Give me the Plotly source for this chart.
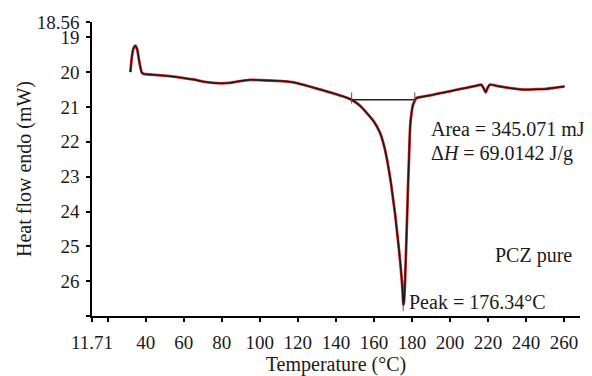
import plotly.graph_objects as go

temps = [31.9, 32.6, 33.5, 34.5, 35.5, 36.6, 37.8, 38.9, 45, 50, 55, 60, 65, 70, 75.6, 80, 83.5, 88, 94.9,
         100, 108.9, 115.9, 120, 124.7, 130, 135, 140, 144, 147.4, 150, 153, 156.2, 160, 163.2, 165.5,
         167.5, 169, 170.1, 171.2, 172.2, 173.2, 174.0, 174.7, 175.1, 175.4, 175.8, 176.3, 176.8, 177.2,
         177.6, 178.0, 178.5, 178.9, 179.3, 179.8, 180.5, 181.5, 182.4, 186, 191.1, 195, 199.9, 204,
         208.7, 213, 216.5, 217.6, 218.8, 219.8, 220.9, 226.2, 232, 238.4, 245, 250.7, 255, 260.3]
heat = [20.0, 19.6, 19.32, 19.24, 19.35, 19.7, 20.0, 20.05, 20.08, 20.1, 20.13, 20.17, 20.21, 20.27, 20.31,
        20.32, 20.31, 20.27, 20.22, 20.23, 20.25, 20.28, 20.32, 20.39, 20.47, 20.55, 20.63, 20.7, 20.77,
        20.85, 20.98, 21.17, 21.42, 21.74, 22.15, 22.69, 23.2, 23.65, 24.1, 24.6, 25.1, 25.55, 26.0, 26.31,
        26.68, 26.6, 26.1, 25.3, 24.6, 23.9, 23.17, 22.4, 21.74, 21.4, 21.17, 20.95, 20.82, 20.74, 20.7,
        20.65, 20.6, 20.55, 20.5, 20.45, 20.4, 20.36, 20.45, 20.58, 20.45, 20.36, 20.41, 20.46, 20.5,
        20.49, 20.48, 20.45, 20.41]

baseline_t = [148.3, 181.5]
baseline_y = [20.79, 20.79]
peak_t = 175.4
peak_y = [26.68, 26.86]

x_tickvals = [11.71, 20, 40, 60, 80, 100, 120, 140, 160, 180, 200, 220, 240, 260]
x_ticktext = ["11.71", "", "40", "60", "80", "100", "120", "140", "160", "180", "200", "220", "240", "260"]
y_tickvals = [18.56, 19, 20, 21, 22, 23, 24, 25, 26, 27]
y_ticktext = ["18.56", "19", "20", "21", "22", "23", "24", "25", "26", ""]

FONT = "Liberation Serif"
FS = 20
TFS = 19
fig = go.Figure()
fig.add_trace(go.Scatter(x=temps, y=heat, mode="lines", line=dict(color="#d9302c", width=2.8, shape="spline", smoothing=0.4),
                         hoverinfo="skip"))
fig.add_trace(go.Scatter(x=temps, y=heat, mode="lines", line=dict(color="#1a1a1a", width=1.5, shape="spline", smoothing=0.4)))
# baseline with end ticks
fig.add_trace(go.Scatter(x=baseline_t, y=baseline_y, mode="lines", line=dict(color="#222222", width=1.5)))
for t in baseline_t:
    fig.add_trace(go.Scatter(x=[t, t], y=[20.58, 20.9], mode="lines", line=dict(color="#555555", width=1)))
fig.add_trace(go.Scatter(x=[peak_t, peak_t], y=peak_y, mode="lines", line=dict(color="#555555", width=1)))

ann_font = dict(family=FONT, size=FS, color="#1a1a1a")
fig.add_annotation(x=189.0, y=21.62, text="Area = 345.071 mJ", showarrow=False, xanchor="left", yanchor="middle", font=ann_font)
fig.add_annotation(x=188.9, y=22.33, text="Δ<i>H</i> = 69.0142 J/g", showarrow=False, xanchor="left", yanchor="middle", font=ann_font)
fig.add_annotation(x=222.6, y=25.25, text="PCZ pure", showarrow=False, xanchor="left", yanchor="middle", font=ann_font)
fig.add_annotation(x=177.6, y=26.6, text="Peak = 176.34°C", showarrow=False, xanchor="left", yanchor="middle", font=ann_font)

fig.update_layout(
    width=592, height=376,
    margin=dict(l=92, r=12, t=22, b=60),
    paper_bgcolor="white", plot_bgcolor="white",
    showlegend=False,
    font=dict(family=FONT, size=FS, color="#1a1a1a"),
    xaxis=dict(range=[11.71, 268.4], tickvals=x_tickvals, ticktext=x_ticktext, tickfont=dict(size=TFS),
               showline=True, linecolor="black", linewidth=1.5, ticks="outside", ticklen=4, tickwidth=1.5,
               tickcolor="black", showgrid=False, zeroline=False, automargin=False, ticklabelstandoff=4,
               title=dict(text="Temperature (°C)", standoff=13, font=dict(family=FONT, size=FS))),
    yaxis=dict(range=[27, 18.56], tickvals=y_tickvals, ticktext=y_ticktext, tickfont=dict(size=TFS),
               showline=True, linecolor="black", linewidth=1.5, ticks="outside", ticklen=4, tickwidth=1.5,
               tickcolor="black", showgrid=False, zeroline=False, automargin=False, ticklabelstandoff=3,
               title=dict(text="Heat flow endo (mW)", standoff=0, font=dict(family=FONT, size=FS))),
)
fig.write_html("out.html")
